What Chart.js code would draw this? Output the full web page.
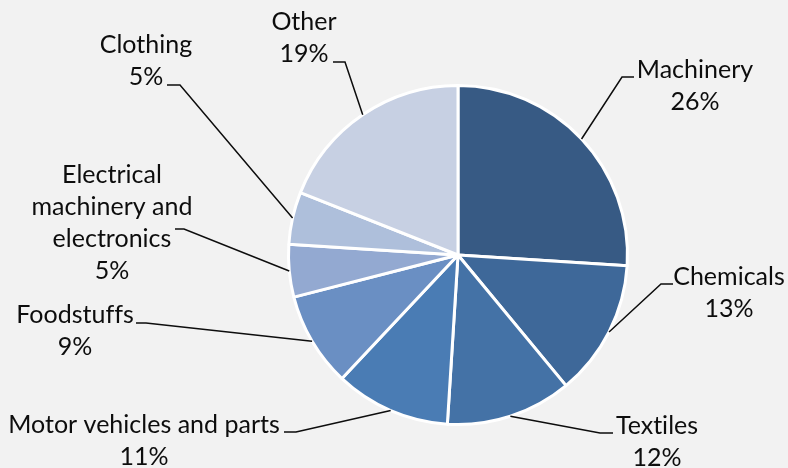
<!DOCTYPE html>
<html>
<head>
<meta charset="utf-8">
<script src="https://cdn.jsdelivr.net/npm/chart.js@4/dist/chart.umd.min.js"></script>
<style>
  html, body { margin: 0; padding: 0; background: #f2f2f2; }
  #wrap { width: 788px; height: 468px; position: relative; }
</style>
</head>
<body>
<div id="wrap"><canvas id="pie"></canvas></div>
<script>
'use strict';

// ── Data ──────────────────────────────────────────────────────────────
const categories = [
  'Machinery',
  'Chemicals',
  'Textiles',
  'Motor vehicles and parts',
  'Foodstuffs',
  'Electrical machinery and electronics',
  'Clothing',
  'Other',
];
const shares = [26, 13, 12, 11, 9, 5, 5, 19];
const sliceColors = [
  '#375a84', '#3e6899', '#4472a6', '#4a7cb4',
  '#6a8fc3', '#93a9d1', '#aebfdb', '#c7d0e3',
];

// ── Label placement (elbow point, end of tick, text centre, first baseline, wrap width)
const LABEL_LAYOUT = [
  { ex: 622, ey: 77,  hx: 634, tx: 695, ty: 78,  wrap: 300 },
  { ex: 661, ey: 284, hx: 673, tx: 729, ty: 285, wrap: 300 },
  { ex: 600, ey: 433, hx: 613, tx: 657, ty: 434, wrap: 300 },
  { ex: 296, ey: 432, hx: 284, tx: 144, ty: 433, wrap: 300 },
  { ex: 146, ey: 323, hx: 136, tx: 75,  ty: 323, wrap: 300 },
  { ex: 184, ey: 229, hx: 175, tx: 112, ty: 183, wrap: 180 },
  { ex: 180, ey: 85,  hx: 167, tx: 146, ty: 53,  wrap: 300 },
  { ex: 345, ey: 62,  hx: 333, tx: 304, ty: 30,  wrap: 300 },
];

const FONT = '25px Lato, "Open Sans", sans-serif';
const LINE_H = 32;

function wrapText(ctx, text, maxWidth) {
  const words = text.split(' ');
  const lines = [];
  let cur = '';
  for (const w of words) {
    const test = cur ? cur + ' ' + w : w;
    if (cur && ctx.measureText(test).width > maxWidth) {
      lines.push(cur);
      cur = w;
    } else {
      cur = test;
    }
  }
  if (cur) lines.push(cur);
  return lines;
}

// ── Leader lines + category / percent labels ──────────────────────────
const leaderLabels = {
  id: 'leaderLabels',
  afterDatasetsDraw(chart) {
    const ctx = chart.ctx;
    const meta = chart.getDatasetMeta(0);
    ctx.save();
    ctx.font = FONT;
    if ('letterSpacing' in ctx) ctx.letterSpacing = '0.01px'; // keeps "ti" from joining
    ctx.fillStyle = '#0d0d0d';
    ctx.strokeStyle = '#0d0d0d';
    ctx.lineWidth = 1.5;
    ctx.textAlign = 'center';
    ctx.textBaseline = 'alphabetic';

    meta.data.forEach((arc, i) => {
      const lay = LABEL_LAYOUT[i];
      const mid = (arc.startAngle + arc.endAngle) / 2;
      const r = arc.outerRadius;
      const ax = arc.x + Math.cos(mid) * r;
      const ay = arc.y + Math.sin(mid) * r;

      ctx.beginPath();
      ctx.moveTo(ax, ay);
      ctx.lineTo(lay.ex, lay.ey);
      ctx.lineTo(lay.hx, lay.ey);
      ctx.stroke();

      const lines = wrapText(ctx, categories[i], lay.wrap);
      lines.push(`${shares[i]}%`);
      lines.forEach((ln, k) => ctx.fillText(ln, lay.tx, lay.ty + k * LINE_H));
    });
    ctx.restore();
  },
};

// ── Chart ─────────────────────────────────────────────────────────────
new Chart(document.getElementById('pie'), {
  type: 'pie',
  data: {
    labels: categories,
    datasets: [{
      data: shares,
      backgroundColor: sliceColors,
      borderColor: '#ffffff',
      borderWidth: 3,
    }],
  },
  options: {
    responsive: true,
    maintainAspectRatio: false,
    animation: false,
    layout: { padding: { left: 287, right: 159, top: 84, bottom: 42 } },
    plugins: {
      legend: { display: false },
      tooltip: { enabled: false },
    },
  },
  plugins: [leaderLabels],
});
</script>
</body>
</html>
